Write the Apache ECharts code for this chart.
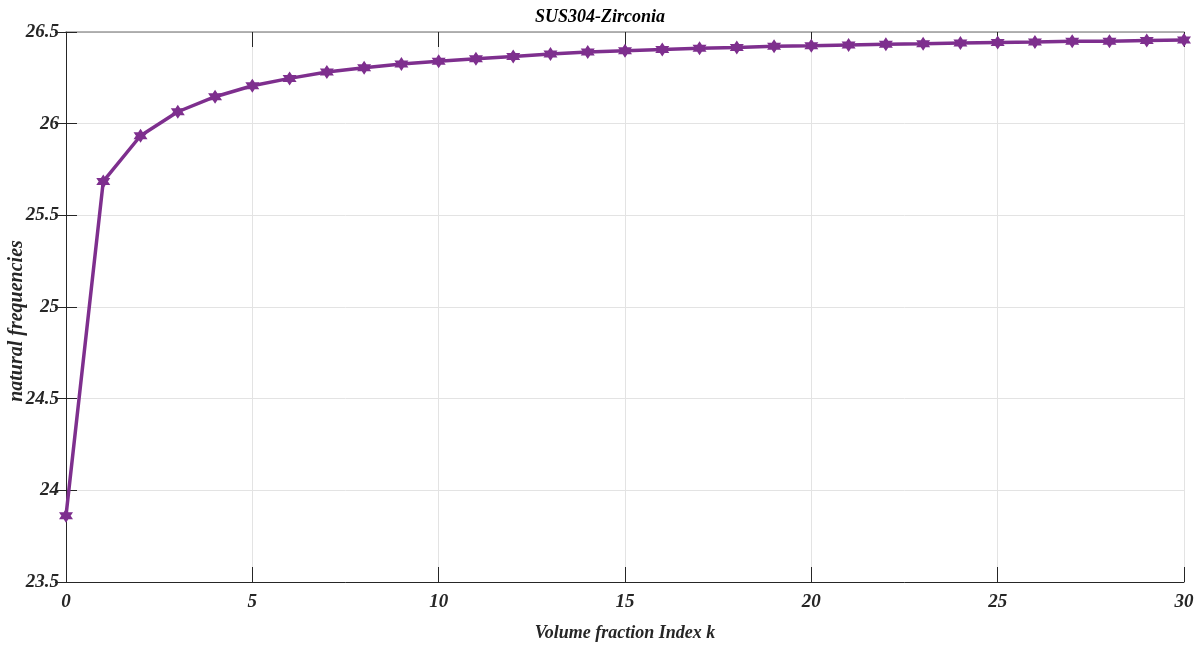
<!DOCTYPE html>
<html>
<head>
<meta charset="utf-8">
<script src="https://cdn.jsdelivr.net/npm/echarts@6/dist/echarts.min.js"></script>
<style>
  html, body { margin: 0; padding: 0; background: #fff; }
  #chart { width: 1200px; height: 646px; }
</style>
</head>
<body>
<div id="chart"></div>
<script>
// volume fraction index k
const kValues = [0, 1, 2, 3, 4, 5, 6, 7, 8, 9, 10, 11, 12, 13, 14, 15, 16, 17, 18, 19, 20,
    21, 22, 23, 24, 25, 26, 27, 28, 29, 30];
// natural frequencies
const freqValues = [23.862, 25.685, 25.934, 26.065, 26.147, 26.207, 26.247, 26.282, 26.305, 26.325,
    26.341, 26.354, 26.367, 26.380, 26.391, 26.398, 26.405, 26.411, 26.416, 26.422,
    26.425, 26.429, 26.433, 26.436, 26.440, 26.443, 26.445, 26.449, 26.450, 26.454, 26.456];

const font = 'Liberation Serif';
const txt = '#262626';
const hexagram = 'path://M0,-10 L8.66,5 L-8.66,5 Z M0,10 L-8.66,-5 L8.66,-5 Z';

const chart = echarts.init(document.getElementById('chart'));
chart.setOption({
    animation: false,
    title: {
        text: 'SUS304-Zirconia',
        left: 'center',
        top: 3,
        textStyle: { fontFamily: font, fontStyle: 'italic', fontWeight: 'bold', fontSize: 18, color: '#000' }
    },
    grid: { left: 66, right: 16, top: 32, bottom: 64, outerBoundsMode: 'none', containLabel: false },
    xAxis: [
        {
            type: 'value',
            min: 0, max: 30, interval: 5,
            name: 'Volume fraction Index k',
            nameLocation: 'middle',
            nameGap: 42,
            nameMoveOverlap: false,
            nameTextStyle: { fontFamily: font, fontStyle: 'italic', fontWeight: 'bold', fontSize: 18, color: txt },
            axisLine: { lineStyle: { color: txt, width: 1 } },
            axisTick: { inside: true, length: 15, lineStyle: { color: txt } },
            axisLabel: { fontFamily: font, fontStyle: 'italic', fontWeight: 'bold', fontSize: 19, color: txt, margin: 11 },
            splitLine: { show: true, lineStyle: { color: '#e3e3e3' } }
        },
        {
            type: 'value', position: 'top',
            min: 0, max: 30, interval: 5,
            axisLine: { show: true, lineStyle: { color: '#9a9a9a', width: 1.5 } },
            axisTick: { inside: true, length: 15, lineStyle: { color: txt } },
            axisLabel: { show: false },
            splitLine: { show: false }
        }
    ],
    yAxis: [
        {
            type: 'value',
            min: 23.5, max: 26.5, interval: 0.5,
            name: 'natural frequencies',
            nameLocation: 'middle',
            nameGap: 39,
            nameMoveOverlap: false,
            nameTextStyle: {
                fontFamily: font, fontStyle: 'italic', fontWeight: 'bold', fontSize: 20, color: txt,
                padding: [0, 28, 0, 0]
            },
            axisLine: { show: true, lineStyle: { color: txt, width: 1 } },
            axisTick: { show: true, inside: true, length: 11, lineStyle: { color: txt } },
            axisLabel: { fontFamily: font, fontStyle: 'italic', fontWeight: 'bold', fontSize: 19, color: txt, margin: 7 },
            splitLine: { show: true, lineStyle: { color: '#e3e3e3' } }
        },
        {
            type: 'value', position: 'right',
            min: 23.5, max: 26.5, interval: 0.5,
            axisLine: { show: true, lineStyle: { color: txt, width: 1 } },
            axisTick: { show: true, inside: true, length: 11, lineStyle: { color: txt } },
            axisLabel: { show: false },
            splitLine: { show: false }
        }
    ],
    series: [
        {
            type: 'line',
            data: kValues.map((k, i) => [k, freqValues[i]]),
            lineStyle: { color: '#7E2F8E', width: 3.5 },
            itemStyle: { color: '#7E2F8E' },
            symbol: hexagram,
            symbolSize: 14,
            showAllSymbol: true,
            clip: false
        }
    ]
});
</script>
</body>
</html>
